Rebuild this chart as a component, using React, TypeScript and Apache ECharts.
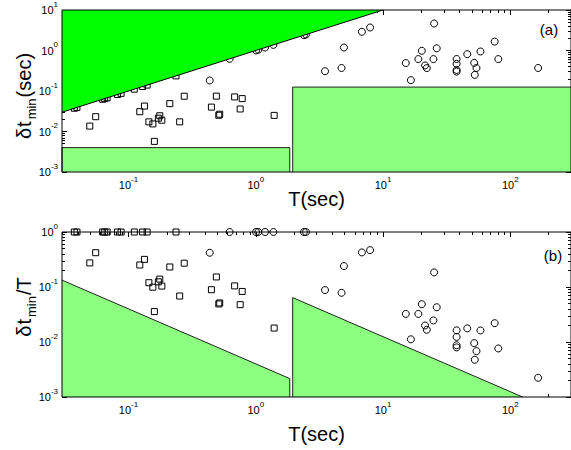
import React, { useEffect, useRef } from "react";
import * as echarts from "echarts";

// ---------- axis ranges and tick labels ----------
const T_RANGE = [0.03, 300];
const DT_RANGE = [0.001, 10];
const RATIO_RANGE = [0.001, 1];
const xTickLabels = [0.1, 1, 10, 100];
const dtTickLabels = [0.001, 0.01, 0.1, 1, 10];
const ratioTickLabels = [0.001, 0.01, 0.1, 1];

// ---------- data: squares (T in s, δt_min in s) ----------
const squareT = [0.0375, 0.0393, 0.0626, 0.065, 0.0679, 0.082, 0.0874, 0.111, 0.129, 0.14, 0.236,
  0.0552, 0.0496, 0.1226, 0.1334, 0.211, 0.274, 0.176, 0.1445, 0.1715, 0.1827, 0.1553, 0.2524, 0.1596,
  0.49, 0.682, 0.782, 0.448, 0.754, 0.5205, 0.512, 1.394];
const squareDt = [0.0375, 0.0393, 0.0626, 0.065, 0.0679, 0.082, 0.0874, 0.111, 0.129, 0.14, 0.236,
  0.0232, 0.0136, 0.0308, 0.0424, 0.0488, 0.0743, 0.0245, 0.0173, 0.0213, 0.019, 0.0154, 0.0173, 0.0057,
  0.0746, 0.0714, 0.0649, 0.04, 0.036, 0.0267, 0.0252, 0.025];

// ---------- data: circles (T in s, δt_min in s) ----------
const circleT = [0.623, 1.005, 1.046, 1.182, 1.375, 2.39, 2.48,
  0.4347, 3.5, 4.72, 4.93, 6.82, 7.91, 25.2, 15.1, 16.55, 18.94, 20.17, 21.39, 22.07, 24.89, 26.42,
  37.86, 37.86, 37.86, 37.86, 45.89, 52.05, 54.25, 52.6, 58.3, 75.4, 80.5, 165.5];
const circleDt = [0.623, 1.005, 1.046, 1.182, 1.375, 2.39, 2.48,
  0.1823, 0.308, 0.37, 1.184, 2.9, 3.7, 4.64, 0.49, 0.1854, 0.614, 0.983, 0.427, 0.368, 0.614, 1.132,
  0.617, 0.468, 0.331, 0.302, 0.812, 0.496, 0.37, 0.25, 0.945, 1.658, 0.614, 0.37];

// ---------- excluded regions ----------
const limitT = [0.03, 10];      // δt = T boundary
const limitDt = [0.03, 10];
const shortBandT = [0.03, 1.85];
const shortBandDt = 0.004;
const longBandT = [1.95, 300];
const longBandDt = 0.125;

const FONT = "Liberation Sans, Arial, sans-serif";
const LIGHT = "#8cff80";
const BRIGHT = "#00ff00";

function decadeTicks(range: number[], minor: boolean): number[] {
  const out: number[] = [];
  for (let e = -4; e <= 3; e++) {
    for (let m = minor ? 2 : 1; m <= (minor ? 9 : 1); m++) {
      const v = parseFloat((m * Math.pow(10, e)).toPrecision(6));
      if (v >= range[0] && v <= range[1]) out.push(v);
    }
  }
  return out;
}

const labelRich = {
  b: { fontSize: 11, lineHeight: 20, fontFamily: FONT, color: "#000" },
  s: { fontSize: 8, lineHeight: 8, padding: [0, 0, 12, 0], fontFamily: FONT, color: "#000" },
};
const supLabel = (v: number) => `{b|10}{s|${Math.round(Math.log10(v))}}`;

function logAxis(gridIndex: number, position: string, range: number[], minor: boolean,
  labelVals: number[] | null, margin: number, extra: any = {}) {
  return {
    type: "log", logBase: 10, gridIndex, position, min: range[0], max: range[1],
    axisLine: { show: false },
    splitLine: { show: false },
    minorTick: { show: false },
    axisTick: {
      show: true, inside: true, length: minor ? 3 : 5,
      customValues: decadeTicks(range, minor),
      lineStyle: { color: "#000", width: 1 },
    },
    axisLabel: labelVals
      ? { show: true, customValues: labelVals, formatter: supLabel, rich: labelRich, margin }
      : { show: false },
    ...extra,
  };
}

const xName = (gap: number) => ({
  name: "T(sec)", nameLocation: "middle", nameGap: gap, nameMoveOverlap: false,
  nameTextStyle: { fontSize: 20, fontFamily: FONT, color: "#000" },
});

const nameRich = {
  g: { fontSize: 20, lineHeight: 20, padding: [0, 1, 0, 0], fontFamily: FONT, fill: "#000" },
  t: { fontSize: 20, lineHeight: 20, padding: [0, 2, 0, 0], fontFamily: FONT, fill: "#000" },
  d: { fontSize: 20, lineHeight: 20, fontFamily: FONT, fill: "#000" },
  m: { fontSize: 13, lineHeight: 13, padding: [15, 1, 0, 0], fontFamily: FONT, fill: "#000" },
};

function buildOption() {
  const squares = squareT.map((t, i) => [t, squareDt[i]]);
  const circles = circleT.map((t, i) => [t, circleDt[i]]);
  const squaresR = squareT.map((t, i) => [t, squareDt[i] / t]);
  const circlesR = circleT.map((t, i) => [t, circleDt[i] / t]);

  const area = (xi: number, yi: number, data: number[][], color: string, origin: string, z: number, lineColor = "#222") => ({
    type: "line", xAxisIndex: xi, yAxisIndex: yi, data, symbol: "none", showSymbol: false,
    silent: true, z, lineStyle: { color: lineColor, width: 1 },
    areaStyle: { color, opacity: 1, origin },
  });
  const scatter = (xi: number, yi: number, data: number[][], symbol: string, size: number) => ({
    type: "scatter", xAxisIndex: xi, yAxisIndex: yi, data, symbol, symbolSize: size, clip: false, z: 2,
    itemStyle: { color: "rgba(0,0,0,0)", borderColor: "#000", borderWidth: 1, opacity: 1 },
  });

  const shortRect = [[shortBandT[0], DT_RANGE[0]], [shortBandT[0], shortBandDt], [shortBandT[1], shortBandDt], [shortBandT[1], DT_RANGE[0]]];
  const longRect = [[longBandT[0], DT_RANGE[0]], [longBandT[0], longBandDt], [longBandT[1], longBandDt]];
  const limitLine = limitT.map((t, i) => [t, limitDt[i]]);
  const shortTri = [[shortBandT[0], shortBandDt / shortBandT[0]], [shortBandT[1], shortBandDt / shortBandT[1]], [shortBandT[1], RATIO_RANGE[0]]];
  const longTri = [[longBandT[0], RATIO_RANGE[0]], [longBandT[0], longBandDt / longBandT[0]], [longBandDt / RATIO_RANGE[0], RATIO_RANGE[0]]];

  return {
    animation: false,
    backgroundColor: "#fff",
    grid: [
      { left: 62, top: 7, width: 512, height: 165, show: true, borderColor: "#000", borderWidth: 1, backgroundColor: "transparent", z: 10 },
      { left: 62, top: 232, width: 512, height: 165, show: true, borderColor: "#000", borderWidth: 1, backgroundColor: "transparent", z: 10 },
    ],
    xAxis: [
      logAxis(0, "bottom", T_RANGE, false, xTickLabels, 3, xName(17)),
      logAxis(0, "bottom", T_RANGE, true, null, 3),
      logAxis(0, "top", T_RANGE, false, null, 3),
      logAxis(0, "top", T_RANGE, true, null, 3),
      logAxis(1, "bottom", T_RANGE, false, xTickLabels, 3, xName(27)),
      logAxis(1, "bottom", T_RANGE, true, null, 3),
      logAxis(1, "top", T_RANGE, false, null, 3),
      logAxis(1, "top", T_RANGE, true, null, 3),
    ],
    yAxis: [
      logAxis(0, "left", DT_RANGE, false, dtTickLabels, 4),
      logAxis(0, "left", DT_RANGE, true, null, 4),
      logAxis(0, "right", DT_RANGE, false, null, 4),
      logAxis(0, "right", DT_RANGE, true, null, 4),
      logAxis(1, "left", RATIO_RANGE, false, ratioTickLabels, 4),
      logAxis(1, "left", RATIO_RANGE, true, null, 4),
      logAxis(1, "right", RATIO_RANGE, false, null, 4),
      logAxis(1, "right", RATIO_RANGE, true, null, 4),
    ],
    series: [
      area(0, 0, shortRect, LIGHT, "start", 1),
      area(0, 0, longRect, LIGHT, "start", 1),
      scatter(0, 0, squares, "rect", 6),
      scatter(0, 0, circles, "circle", 7),
      area(0, 0, limitLine, BRIGHT, "end", 3, "#000"),
      area(4, 4, shortTri, LIGHT, "start", 1),
      area(4, 4, longTri, LIGHT, "start", 1),
      scatter(4, 4, squaresR, "rect", 6),
      scatter(4, 4, circlesR, "circle", 7),
    ],
    graphic: [
      { type: "text", x: 24, y: 96, rotation: Math.PI / 2, z: 20,
        style: { text: "{g|δ}{t|t}{m|min}{d|(sec)}", rich: nameRich, align: "center", verticalAlign: "middle" } },
      { type: "text", x: 24, y: 307, rotation: Math.PI / 2, z: 20,
        style: { text: "{g|δ}{t|t}{m|min}{d|/T}", rich: nameRich, align: "center", verticalAlign: "middle" } },
      { type: "text", x: 549, y: 29, z: 20,
        style: { text: "(a)", fontSize: 15, fontFamily: FONT, fill: "#000", align: "center", verticalAlign: "middle" } },
      { type: "text", x: 553, y: 255, z: 20,
        style: { text: "(b)", fontSize: 15, fontFamily: FONT, fill: "#000", align: "center", verticalAlign: "middle" } },
    ],
  };
}

export default function App() {
  const ref = useRef<HTMLDivElement>(null);
  useEffect(() => {
    if (!ref.current) return;
    const chart = echarts.init(ref.current, undefined, { renderer: "svg", width: 571, height: 450 });
    chart.setOption(buildOption() as any);
    return () => chart.dispose();
  }, []);
  return (
    <div
      ref={ref}
      style={{ position: "absolute", left: 0, top: 0, width: 571, height: 450, background: "#fff" }}
    />
  );
}
